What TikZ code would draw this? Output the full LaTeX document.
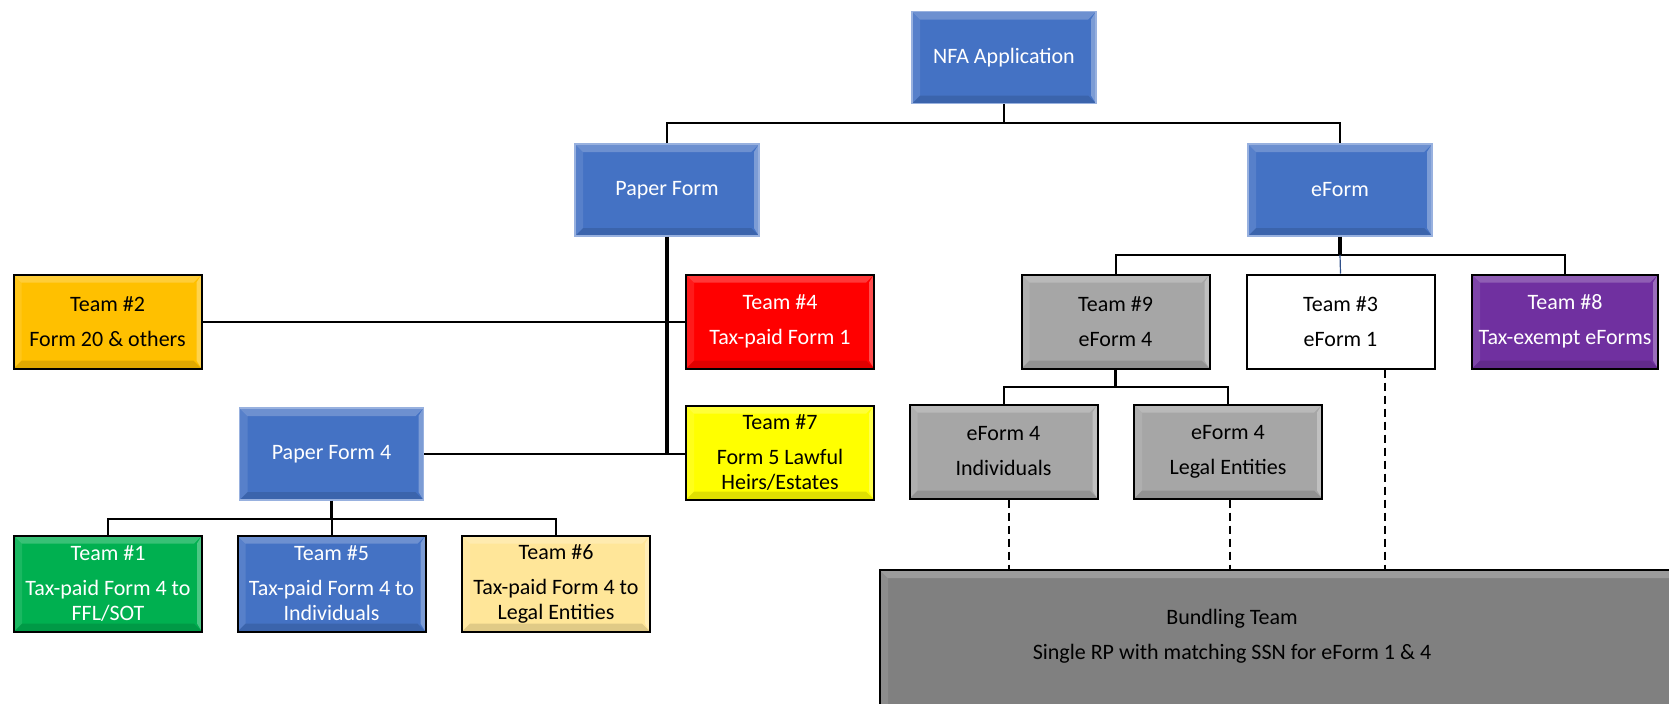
\documentclass[tikz,border=0pt]{standalone}
\usepackage{fontspec}
\setmainfont{Carlito}
\usetikzlibrary{calc}
\definecolor{oblue}{HTML}{4472C4}
\definecolor{ogold}{HTML}{FFC000}
\definecolor{ored}{HTML}{FF0000}
\definecolor{oyellow}{HTML}{FFFF00}
\definecolor{ogreen}{HTML}{00B050}
\definecolor{olight}{HTML}{FFE699}
\definecolor{ogrey}{HTML}{A6A6A6}
\definecolor{odgrey}{HTML}{808080}
\definecolor{opurple}{HTML}{7030A0}
\tikzset{
  bevel/.style={path picture={
    \coordinate (ppnw) at (path picture bounding box.north west);
    \coordinate (ppne) at (path picture bounding box.north east);
    \coordinate (ppsw) at (path picture bounding box.south west);
    \coordinate (ppse) at (path picture bounding box.south east);
    \fill[white,opacity=0.22] (ppnw) -- (ppne) -- ([shift={(-4pt,-4pt)}]ppne) -- ([shift={(4pt,-4pt)}]ppnw) -- cycle;
    \fill[white,opacity=0.10] (ppnw) -- ([shift={(4pt,-4pt)}]ppnw) -- ([shift={(4pt,4pt)}]ppsw) -- (ppsw) -- cycle;
    \fill[white,opacity=0.30] (ppne) -- ([shift={(-2.5pt,-4pt)}]ppne) -- ([shift={(-2.5pt,4pt)}]ppse) -- (ppse) -- cycle;
    \fill[black,opacity=0.12] (ppsw) -- ([shift={(4pt,4pt)}]ppsw) -- ([shift={(-4pt,4pt)}]ppse) -- (ppse) -- cycle;
  }},
  box/.style={draw=black, line width=1pt, minimum width=94pt, minimum height=47pt,
    align=center, inner sep=1pt, font=\fontsize{11}{12.5}\selectfont, bevel},
  bluebox/.style={box, fill=oblue, draw=oblue!55!white, line width=0.6pt, text=white,
    minimum width=92pt, minimum height=46pt},
  conn/.style={draw=black, line width=1pt},
  stem/.style={draw=black, line width=1.6pt},
  dconn/.style={draw=black, line width=0.9pt, dashed, dash pattern=on 4pt off 2.5pt},
}
\begin{document}
\begin{tikzpicture}[x=0.5pt,y=-0.5pt]
\useasboundingbox (0,0) rectangle (1669,703);
\clip (0,0) rectangle (1669,703);

% nodes
\node[bluebox] (nfa) at (1004,57.5) {NFA Application};
\node[bluebox] (pf) at (667,190) {Paper Form};
\node[bluebox] (ef) at (1340,190) {eForm};

\node[box, fill=ogold] (t2) at (107.5,321.5) {Team \#2\\[5pt]Form 20 \& others};
\node[box, fill=ored, text=white] (t4) at (780,321.5) {Team \#4\\[5pt]Tax-paid Form 1};
\node[box, fill=oyellow] (t7) at (780,452.5) {Team \#7\\[5pt]Form 5 Lawful\\Heirs/Estates};
\node[bluebox] (pf4) at (331.5,454) {Paper Form 4};

\node[box, fill=ogreen, text=white, minimum height=48pt] (t1) at (108,583.5) {Team \#1\\[5pt]Tax-paid Form 4 to\\FFL/SOT};
\node[box, fill=oblue, text=white, minimum height=48pt] (t5) at (331.5,583.5) {Team \#5\\[5pt]Tax-paid Form 4 to\\Individuals};
\node[box, fill=olight, minimum height=48pt] (t6) at (556,583.5) {Team \#6\\[5pt]Tax-paid Form 4 to\\Legal Entities};

\node[box, fill=ogrey] (t9) at (1115.5,321.5) {Team \#9\\[5pt]eForm 4};
\node[box, fill=white, path picture={}] (t3) at (1340.5,321.5) {Team \#3\\[5pt]eForm 1};
\node[box, fill=opurple, text=white, minimum width=93pt] (t8) at (1565,321.5) {Team \#8\\[5pt]Tax-exempt eForms};

\node[box, fill=ogrey] (ind) at (1003.5,451.5) {eForm 4\\[5pt]Individuals};
\node[box, fill=ogrey] (le) at (1228,451.5) {eForm 4\\[5pt]Legal Entities};

\node[box, fill=odgrey, anchor=north west, minimum width=460pt, minimum height=95pt] (bund) at (879,569) {};
\node[font=\fontsize{11}{12.5}\selectfont, align=center, inner sep=0pt] (bundtext) at (1232,636) {Bundling Team\\[5pt]Single RP with matching SSN for eForm 1 \& 4};

% connectors
\coordinate (b1) at (1004,123);
\draw[conn] (nfa.south) -- (b1);
\draw[conn] (pf.north) |- (b1) -| (ef.north);

\draw[stem] (pf.south) -- (pf.south |- t7.west);
\draw[conn] (t2.east) -- (t4.west);
\draw[conn] (pf4.east) -- (pf4.east -| t7.west);

\coordinate (b2) at (331.5,519);
\draw[stem] (pf4.south) -- (b2);
\draw[conn] (t1.north) |- (b2) -| (t6.north);
\draw[conn] (b2) -- (t5.north);

\coordinate (b3) at (1340,255);
\draw[stem] (ef.south) -- (b3);
\draw[conn] (t9.north) |- (b3) -| (t8.north);
\draw[draw=oblue!70!black, line width=0.6pt] (b3) -- (t3.north);

\coordinate (b4) at (1115.5,387);
\draw[stem] (t9.south) -- (b4);
\draw[conn] (ind.north) |- (b4) -| (le.north);

\coordinate (d1) at ($(ind.south)+(5.5,0)$);
\draw[dconn] (d1) -- (d1 |- bund.north);
\coordinate (d2) at ($(le.south)+(2,0)$);
\draw[dconn] (d2) -- (d2 |- bund.north);
\coordinate (d3) at ($(t3.south)+(44.5,0)$);
\draw[dconn] (d3) -- (d3 |- bund.north);
\end{tikzpicture}
\end{document}
